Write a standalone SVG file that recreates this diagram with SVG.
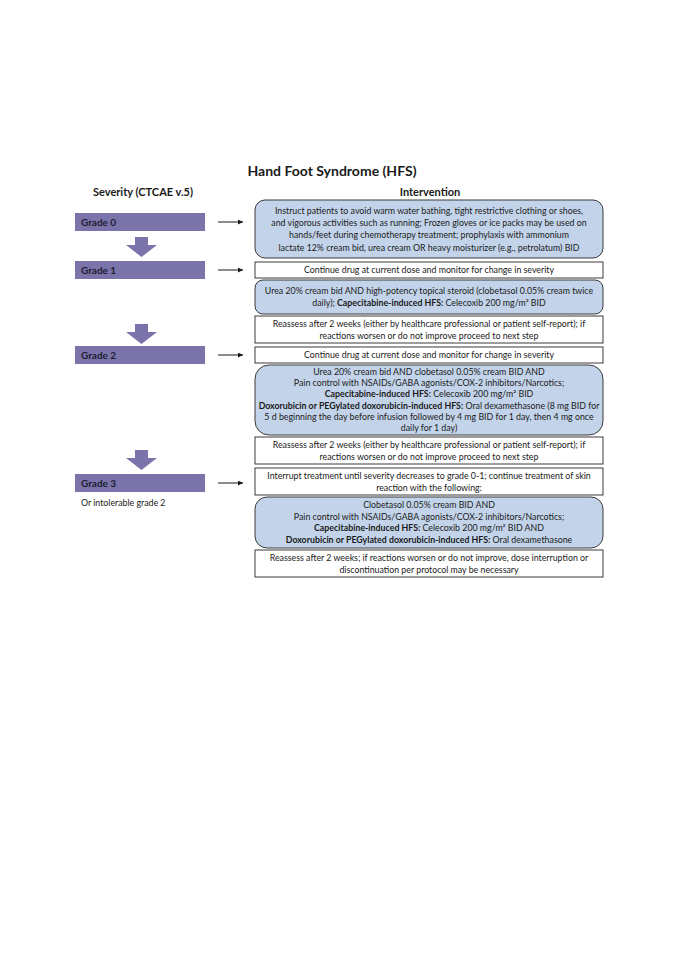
<svg xmlns="http://www.w3.org/2000/svg" width="678" height="960" viewBox="0 0 678 960">
<style>
text{font-family:Lato,"Liberation Sans",sans-serif;fill:#1a1a1a}
.t{font-size:8.8px;text-anchor:middle}
.b{font-weight:bold}
.hd{font-size:11px;font-weight:bold;text-anchor:middle}
.gl{font-size:10px;font-weight:bold;fill:#1c1c30}
.bar{fill:#7b74ab}
.rb{fill:#c3d4ea;stroke:#3a3a3a;stroke-width:1}
.sb{fill:#ffffff;stroke:#3a3a3a;stroke-width:1}
.con{stroke:#1a1a1a;stroke-width:1;fill:none}
.da{fill:#7b74ab}
</style>
<defs>
<marker id="ah" viewBox="0 0 6 6" refX="6" refY="3" markerWidth="5" markerHeight="5" markerUnits="userSpaceOnUse" orient="auto"><path d="M0,0 L6,3 L0,6 z" fill="#1a1a1a"/></marker>
</defs>
<rect width="678" height="960" fill="#ffffff"/>
<g id="title"><text x="332" y="176" text-anchor="middle" style="font-size:14px;font-weight:bold">Hand Foot Syndrome (HFS)</text></g>
<g id="hdr-severity"><text class="hd" x="143" y="196">Severity (CTCAE v.5)</text></g>
<g id="hdr-intervention"><text class="hd" x="430" y="196">Intervention</text></g>

<g id="grade0"><rect class="bar" x="75" y="213" width="130" height="18"/><text class="gl" x="81" y="225.5">Grade 0</text></g>
<g id="grade1"><rect class="bar" x="75" y="261" width="130" height="18"/><text class="gl" x="81" y="273.5">Grade 1</text></g>
<g id="grade2"><rect class="bar" x="75" y="346" width="130" height="18"/><text class="gl" x="81" y="358.5">Grade 2</text></g>
<g id="grade3"><rect class="bar" x="75" y="474" width="130" height="18"/><text class="gl" x="81" y="486.5">Grade 3</text><text x="81" y="506" style="font-size:8.8px">Or intolerable grade 2</text></g>

<g id="connectors">
<polygon class="da" points="135,237 148,237 148,245 157,245 141.5,257 126,245 135,245"/>
<polygon class="da" points="135,324 148,324 148,332 157,332 141.5,344 126,332 135,332"/>
<polygon class="da" points="135,450 148,450 148,458 157,458 141.5,470 126,458 135,458"/>
<line class="con" x1="218" y1="222" x2="243" y2="222" marker-end="url(#ah)"/>
<line class="con" x1="218" y1="270" x2="243" y2="270" marker-end="url(#ah)"/>
<line class="con" x1="218" y1="355" x2="243" y2="355" marker-end="url(#ah)"/>
<line class="con" x1="218" y1="483" x2="243" y2="483" marker-end="url(#ah)"/>
</g>

<g id="box-g0-prevention"><rect class="rb" x="255" y="200" width="348" height="58" rx="10"/>
<text class="t" x="429" y="213.5">Instruct patients to avoid warm water bathing, tight restrictive clothing or shoes,</text>
<text class="t" x="429" y="225.8">and vigorous activities such as running; Frozen gloves or ice packs may be used on</text>
<text class="t" x="429" y="238.2">hands/feet during chemotherapy treatment; prophylaxis with ammonium</text>
<text class="t" x="429" y="250.5">lactate 12% cream bid, urea cream OR heavy moisturizer (e.g., petrolatum) BID</text>
</g>
<g id="box-g1-continue"><rect class="sb" x="255" y="262" width="348" height="16"/>
<text class="t" x="429" y="273">Continue drug at current dose and monitor for change in severity</text></g>
<g id="box-g1-treat"><rect class="rb" x="255" y="280" width="348" height="34" rx="8"/>
<text class="t" x="429" y="294">Urea 20% cream bid AND high-potency topical steroid (clobetasol 0.05% cream twice</text>
<text class="t" x="429" y="306">daily); <tspan class="b">Capecitabine-induced HFS:</tspan> Celecoxib 200 mg/m² BID</text></g>
<g id="box-g1-reassess"><rect class="sb" x="255" y="316" width="348" height="27"/>
<text class="t" x="429" y="326.5">Reassess after 2 weeks (either by healthcare professional or patient self-report); if</text>
<text class="t" x="429" y="338.5">reactions worsen or do not improve proceed to next step</text></g>
<g id="box-g2-continue"><rect class="sb" x="255" y="347" width="348" height="16"/>
<text class="t" x="429" y="358">Continue drug at current dose and monitor for change in severity</text></g>
<g id="box-g2-treat"><rect class="rb" x="255" y="365" width="348" height="70" rx="14"/>
<text class="t" x="429" y="374.7">Urea 20% cream bid AND clobetasol 0.05% cream BID AND</text>
<text class="t" x="429" y="386">Pain control with NSAIDs/GABA agonists/COX-2 inhibitors/Narcotics;</text>
<text class="t" x="429" y="397.4"><tspan class="b">Capecitabine-induced HFS:</tspan> Celecoxib 200 mg/m² BID</text>
<text class="t" x="429" y="408.7"><tspan class="b">Doxorubicin or PEGylated doxorubicin-induced HFS:</tspan> Oral dexamethasone (8 mg BID for</text>
<text class="t" x="429" y="420">5 d beginning the day before infusion followed by 4 mg BID for 1 day, then 4 mg once</text>
<text class="t" x="429" y="431.3">daily for 1 day)</text></g>
<g id="box-g2-reassess"><rect class="sb" x="255" y="437" width="348" height="27"/>
<text class="t" x="429" y="447.5">Reassess after 2 weeks (either by healthcare professional or patient self-report); if</text>
<text class="t" x="429" y="459.5">reactions worsen or do not improve proceed to next step</text></g>
<g id="box-g3-interrupt"><rect class="sb" x="255" y="468" width="348" height="27"/>
<text class="t" x="429" y="478.5">Interrupt treatment until severity decreases to grade 0-1; continue treatment of skin</text>
<text class="t" x="429" y="490.5">reaction with the following:</text></g>
<g id="box-g3-treat"><rect class="rb" x="255" y="497" width="348" height="51" rx="12"/>
<text class="t" x="429" y="507.8">Clobetasol 0.05% cream BID AND</text>
<text class="t" x="429" y="519.6">Pain control with NSAIDs/GABA agonists/COX-2 inhibitors/Narcotics;</text>
<text class="t" x="429" y="531.4"><tspan class="b">Capecitabine-induced HFS:</tspan> Celecoxib 200 mg/m² BID AND</text>
<text class="t" x="429" y="543.2"><tspan class="b">Doxorubicin or PEGylated doxorubicin-induced HFS:</tspan> Oral dexamethasone</text></g>
<g id="box-g3-reassess"><rect class="sb" x="255" y="550" width="348" height="27"/>
<text class="t" x="429" y="560.5">Reassess after 2 weeks; if reactions worsen or do not improve, dose interruption or</text>
<text class="t" x="429" y="572.5">discontinuation per protocol may be necessary</text></g>
</svg>
